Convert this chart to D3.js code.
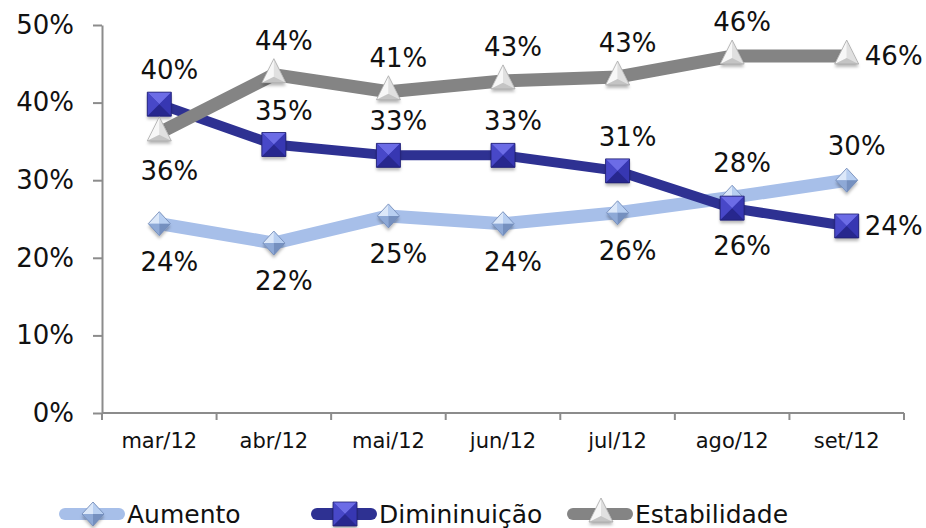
<!DOCTYPE html>
<meta charset="utf-8">
<title>Aumento / Diminuição / Estabilidade</title>
<style>
body { margin: 0; background: #fff; }
text { font-family: "DejaVu Sans", Verdana, sans-serif; fill: #111; }
.axis path, .axis line { stroke: #8c8c8c; stroke-width: 2; }
</style>
<body>
<svg width="926" height="528"></svg>
<script src="https://d3js.org/d3.v7.min.js"></script>
<script>

// data
var months = ["mar/12", "abr/12", "mai/12", "jun/12", "jul/12", "ago/12", "set/12"];
var aumento = [0.244, 0.219, 0.254, 0.244, 0.258, 0.278, 0.300];
var diminuicao = [0.398, 0.346, 0.332, 0.332, 0.312, 0.264, 0.241];
var estabilidade = [0.361, 0.436, 0.414, 0.428, 0.433, 0.460, 0.460];
var yTicks = [0, 0.1, 0.2, 0.3, 0.4, 0.5];
// where each value label sits: a = above, b = below, r = right
var aumentoPos = ["b", "b", "b", "b", "b", "a", "a"];
var diminuicaoPos = ["a", "a", "a", "a", "a", "b", "r"];
var estabilidadePos = ["b", "a", "a", "a", "a", "a", "r"];

var series = [
  {name: "Aumento", values: aumento, pos: aumentoPos, color: "#a7bfe9", width: 13, marker: "diamond"},
  {name: "Dimininuição", values: diminuicao, pos: diminuicaoPos, color: "#2e3192", width: 10, marker: "square"},
  {name: "Estabilidade", values: estabilidade, pos: estabilidadePos, color: "#848484", width: 13, marker: "triangle"}
];

var svg = d3.select("svg");
var plotLeft = 102, plotRight = 904, plotTop = 25, plotBottom = 413;

var x = d3.scaleBand().domain(months).range([plotLeft, plotRight]);
var y = d3.scaleLinear().domain([0, 0.5]).range([plotBottom, plotTop]);
var cx = function(m) { return x(m) + x.bandwidth() / 2; };
var pct = d3.format(".0%");

// shadow for markers
var defs = svg.append("defs");
defs.append("filter").attr("id", "shadow")
  .attr("x", "-50%").attr("y", "-50%").attr("width", "200%").attr("height", "200%")
  .append("feDropShadow")
  .attr("dx", 0).attr("dy", 3).attr("stdDeviation", 1.8)
  .attr("flood-color", "#000").attr("flood-opacity", 0.28);

// y axis
svg.append("g")
  .attr("class", "axis")
  .attr("transform", "translate(" + plotLeft + ",0)")
  .call(d3.axisLeft(y).tickValues(yTicks).tickFormat(pct).tickSize(9).tickSizeOuter(0).tickPadding(19))
  .call(function(g) {
    g.selectAll("text").style("font-size", "26px").attr("fill", "#111");
  });

// x axis: line plus ticks on the band edges
var xg = svg.append("g").attr("class", "axis");
xg.append("line")
  .attr("x1", plotLeft).attr("x2", plotRight)
  .attr("y1", plotBottom).attr("y2", plotBottom);
xg.selectAll(".edge")
  .data(months.concat(["end"]))
  .enter().append("line")
  .attr("class", "edge")
  .attr("x1", function(d) { return d === "end" ? plotRight : x(d); })
  .attr("x2", function(d) { return d === "end" ? plotRight : x(d); })
  .attr("y1", plotBottom).attr("y2", plotBottom + 7);
svg.selectAll(".xlab")
  .data(months)
  .enter().append("text")
  .attr("class", "xlab")
  .attr("x", cx)
  .attr("y", plotBottom + 28)
  .attr("text-anchor", "middle")
  .attr("dominant-baseline", "central")
  .style("font-size", "21px")
  .text(function(d) { return d; });

// marker shapes, drawn as faceted polygons
function drawMarker(g, type) {
  var facets, outline;
  if (type === "square") {
    var s = 12;
    facets = [
      [[-s, -s], [s, -s], [0, 0], "#6c6ce6"],
      [[-s, -s], [-s, s], [0, 0], "#4848c8"],
      [[s, -s], [s, s], [0, 0], "#3737b2"],
      [[-s, s], [s, s], [0, 0], "#27278e"]
    ];
    outline = "M-12,-12H12V12H-12Z";
    g.append("path").attr("d", outline)
      .attr("fill", "#3b3bb5").attr("filter", "url(#shadow)");
  } else if (type === "diamond") {
    var w = 11, h = 12;
    facets = [
      [[0, -h], [-w, 0], [0, 0], "#dce8f9"],
      [[0, -h], [w, 0], [0, 0], "#b8cff1"],
      [[-w, 0], [0, h], [0, 0], "#8ea9d6"],
      [[w, 0], [0, h], [0, 0], "#7590bf"]
    ];
    outline = "M0," + (-h) + "L" + w + ",0L0," + h + "L" + (-w) + ",0Z";
    g.append("path").attr("d", outline)
      .attr("fill", "#9fb8e2").attr("filter", "url(#shadow)");
  } else {
    var tw = 12, ta = -16, tb = 8;
    facets = [
      [[0, ta], [-tw, tb], [0, 2], "#f7f7f7"],
      [[0, ta], [tw, tb], [0, 2], "#e0e0e0"],
      [[-tw, tb], [tw, tb], [0, 2], "#c4c4c4"]
    ];
    outline = "M0," + ta + "L" + tw + "," + tb + "L" + (-tw) + "," + tb + "Z";
    g.append("path").attr("d", outline)
      .attr("fill", "#e8e8e8").attr("filter", "url(#shadow)");
  }
  facets.forEach(function(f) {
    g.append("path")
      .attr("d", "M" + f[0] + "L" + f[1] + "L" + f[2] + "Z")
      .attr("fill", f[3]);
  });
  var edge = {square: "#20206e", diamond: "#7088b5", triangle: "#a8a8a8"}[type];
  g.append("path")
    .attr("d", outline)
    .attr("fill", "none").attr("stroke", edge).attr("stroke-width", 0.8);
}

var line = d3.line()
  .x(function(d, i) { return cx(months[i]); })
  .y(function(d) { return y(d); });

series.forEach(function(s) {
  var g = svg.append("g");
  g.append("path")
    .datum(s.values)
    .attr("d", line)
    .attr("fill", "none")
    .attr("stroke", s.color)
    .attr("stroke-width", s.width)
    .attr("stroke-linejoin", "round");
  g.selectAll(".m")
    .data(s.values)
    .enter().append("g")
    .attr("transform", function(d, i) { return "translate(" + cx(months[i]) + "," + y(d) + ")"; })
    .each(function() { drawMarker(d3.select(this), s.marker); });
});

// value labels on top
series.forEach(function(s) {
  svg.selectAll(null)
    .data(s.values)
    .enter().append("text")
    .attr("x", function(d, i) {
      var p = s.pos[i];
      return cx(months[i]) + (p === "r" ? 47 : 10);
    })
    .attr("y", function(d, i) {
      var p = s.pos[i];
      return y(d) + (p === "a" ? -34 : p === "b" ? 38 : 0);
    })
    .attr("text-anchor", "middle")
    .attr("dominant-baseline", "central")
    .style("font-size", "26px")
    .text(function(d) { return pct(d); });
});

// legend
var legendX = [65, 317, 573];
var legend = svg.selectAll(".leg")
  .data(series)
  .enter().append("g")
  .attr("class", "leg")
  .attr("transform", function(d, i) { return "translate(" + legendX[i] + ",514)"; });
legend.append("line")
  .attr("x1", 0).attr("x2", 54)
  .attr("stroke", function(d) { return d.color; })
  .attr("stroke-width", 12)
  .attr("stroke-linecap", "round");
legend.append("g")
  .attr("transform", "translate(28,0)")
  .each(function(d) { drawMarker(d3.select(this), d.marker); });
legend.append("text")
  .attr("x", 62)
  .attr("dominant-baseline", "central")
  .style("font-size", "25px")
  .text(function(d) { return d.name; });

</script>
</body>
